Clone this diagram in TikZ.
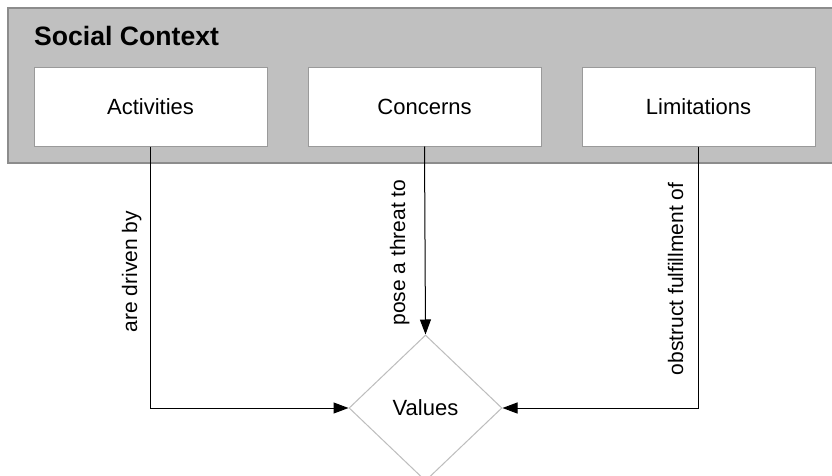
\documentclass[tikz,border=0pt]{standalone}
\usepackage{fontspec}
\setmainfont{Liberation Sans}
\usetikzlibrary{shapes.geometric,arrows.meta}
\definecolor{bggray}{HTML}{C0C0C0}
\definecolor{bgborder}{HTML}{8C8C8C}
\definecolor{boxborder}{HTML}{9A9A9A}
\definecolor{diaborder}{HTML}{BDBDBD}
\tikzset{
  ctxbox/.style={draw=boxborder, line width=1pt, fill=white, minimum width=233pt, minimum height=78pt, inner sep=0pt, font=\fontsize{22}{26}\selectfont},
  valdia/.style={diamond, draw=diaborder, line width=1pt, fill=white, minimum width=153pt, minimum height=146pt, inner sep=0pt, font=\fontsize{22}{26}\selectfont},
  conn/.style={draw=black, line width=1pt, -{Triangle[length=15pt,width=11pt]}},
  rotlabel/.style={rotate=90, anchor=base, inner sep=0pt, font=\fontsize{21}{25}\selectfont}
}
\begin{document}
\begin{tikzpicture}[x=1pt,y=-1pt]
\useasboundingbox (0,0) rectangle (832,476);
\clip (0,0) rectangle (832,476);
\fill[white] (0,0) rectangle (832,476);
\draw[fill=bggray, draw=bgborder, line width=1.2pt] (8,8) rectangle (850,163);
\node[anchor=base west, inner sep=0pt, font=\fontsize{26.6}{30}\selectfont\bfseries] (title) at (34,46) {Social Context};
\node[ctxbox] (act) at (150.5,107) {Activities};
\node[ctxbox] (con) at (424.5,107) {Concerns};
\node[ctxbox] (lim) at (698.5,107) {Limitations};
\node[valdia] (val) at (425.5,408) {Values};
\draw[conn] (act.south) |- (val.west);
\draw[conn] (con.south) -- (val.north);
\draw[conn] (lim.south) |- (val.east);
\node[rotlabel] (l1) at (137,271.5) {are driven by};
\node[rotlabel] (l2) at (405,252.5) {pose a threat to};
\node[rotlabel] (l3) at (683,279) {obstruct fulfillment of};
\end{tikzpicture}
\end{document}
